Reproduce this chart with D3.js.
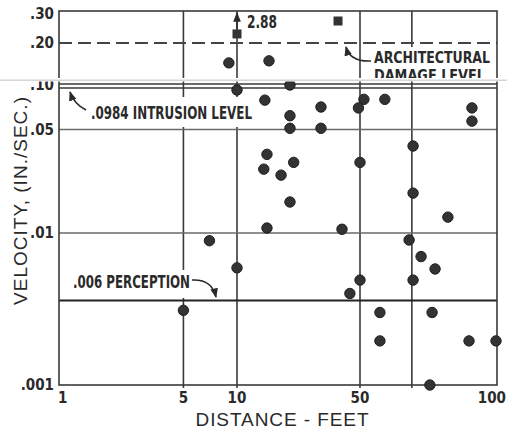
<!DOCTYPE html>
<html><head><meta charset="utf-8">
<script src="https://cdn.jsdelivr.net/npm/d3@7"></script>
<style>body{margin:0;background:#fff}svg{display:block}</style>
</head><body>
<script>
// ---- data ----
const distances  = [5, 7, 10, 10, 9, 15.2, 14.4, 20, 20, 20, 30, 30, 14.8, 14.2, 17.8, 21, 20, 14.8, 39.5,
                    50, 51, 49, 56.7, 65.4, 65.4, 78, 64.1, 68.1, 73.1, 50, 65.4, 43.8, 55.3, 72, 55.3, 86.8, 99.5, 71.2, 88.1, 88.1];
const velocities = [0.0031, 0.0089, 0.0059, 0.0925, 0.144, 0.149, 0.079, 0.1, 0.062, 0.051, 0.071, 0.051, 0.034, 0.027, 0.0246, 0.030, 0.0162, 0.0108, 0.0106,
                    0.030, 0.080, 0.070, 0.080, 0.0387, 0.0186, 0.0128, 0.0090, 0.0070, 0.0058, 0.0049, 0.0049, 0.0040, 0.0030, 0.0030, 0.00195, 0.00195, 0.00195, 0.001, 0.070, 0.057];
const offScaleDistances  = [10, 37.5];
const offScaleVelocities = [0.227, 0.272];
const offScaleLabel = "2.88";
const xTickValues = [1, 5, 10, 50, 100];
const xTickLabels = ["1", "5", "10", "50", "100"];
const xGridValues = [5, 10, 50, 65];
const yTickValues = [0.001, 0.01, 0.05, 0.1, 0.2, 0.3];
const yTickLabels = [".001", ".01", ".05", ".10", ".20", ".30"];
const yGridValues = [0.01, 0.05];
const architecturalLevel = 0.2;
const intrusionLevel = 0.0984;
const perceptionLevel = 0.0036;
const xTitle = "DISTANCE - FEET";
const yTitle = "VELOCITY, (IN./SEC.)";

// ---- layout ----
const W = 507, H = 431;
const pLeft = 59, pRight = 497, pTop = 11, pBottom = 385;
const narrow = "'Liberation Sans Narrow','DejaVu Sans Condensed',sans-serif";
const ink = "#2a2a2a";

const x = d3.scaleLog().domain([1, 10, 50, 100]).range([pLeft, 237, 360, pRight]);
const y = d3.scaleLog().domain([0.001, 0.01, 0.1, 0.2, 0.3]).range([pBottom, 233, 85, 43, 14]);

const svg = d3.select("body").append("svg").attr("width", W).attr("height", H);
svg.append("rect").attr("width", W).attr("height", H).attr("fill", "#fff");

const defs = svg.append("defs");
defs.append("marker").attr("id", "ah").attr("viewBox", "0 0 10 10").attr("refX", 9).attr("refY", 5)
  .attr("markerWidth", 6).attr("markerHeight", 6).attr("orient", "auto-start-reverse")
  .append("path").attr("d", "M0,1 L10,5 L0,9 Z").attr("fill", ink);

const g = svg.append("g");

// grid
g.selectAll(".vg").data(xGridValues).join("line")
  .attr("x1", d => x(d)).attr("x2", d => x(d)).attr("y1", pTop).attr("y2", pBottom + 3)
  .attr("stroke", "#3a3a3a").attr("stroke-width", 1.6);
g.selectAll(".hg").data(yGridValues).join("line")
  .attr("x1", pLeft).attr("x2", pRight).attr("y1", d => y(d)).attr("y2", d => y(d))
  .attr("stroke", "#6a6a6a").attr("stroke-width", 1.6);

// architectural dashed
g.append("line").attr("x1", pLeft).attr("x2", pRight).attr("y1", y(architecturalLevel)).attr("y2", y(architecturalLevel))
  .attr("stroke", "#444").attr("stroke-width", 2).attr("stroke-dasharray", "13,6");
// intrusion double line
[-2, 2].forEach(o => g.append("line").attr("x1", pLeft).attr("x2", pRight)
  .attr("y1", y(intrusionLevel) + o).attr("y2", y(intrusionLevel) + o)
  .attr("stroke", "#3a3a3a").attr("stroke-width", 1.4));
// perception line
g.append("line").attr("x1", pLeft).attr("x2", pRight).attr("y1", y(perceptionLevel)).attr("y2", y(perceptionLevel))
  .attr("stroke", "#222").attr("stroke-width", 2);

// label boxes
const boxes = [[88, 97, 168, 30], [68, 270, 128, 28], [365, 47, 129, 31]];
g.selectAll(".box").data(boxes).join("rect")
  .attr("x", d => d[0]).attr("y", d => d[1]).attr("width", d => d[2]).attr("height", d => d[3]).attr("fill", "#fff");

// frame
g.append("rect").attr("x", pLeft).attr("y", pTop).attr("width", pRight - pLeft).attr("height", pBottom - pTop)
  .attr("fill", "none").attr("stroke", "#3a3a3a").attr("stroke-width", 1.6);

// annotations text
function lab(t, tx, ty, len, fs) {
  svg.append("text").attr("x", tx).attr("y", ty).attr("font-family", narrow).attr("font-weight", "bold")
    .attr("font-size", fs).attr("fill", ink).attr("textLength", len).attr("lengthAdjust", "spacingAndGlyphs").text(t);
}
lab(".0984 INTRUSION LEVEL", 91, 119, 161, 17);
lab(".006 PERCEPTION", 73, 288, 117, 17);
lab("ARCHITECTURAL", 374, 63, 116, 16);
lab("DAMAGE LEVEL", 374, 81, 111, 16);

// curved arrows
const arrows = ["M86,110 Q74,104 70,92", "M192,280 Q212,279 216,297", "M371,61 Q350,62 346,47"];
svg.selectAll(".arr").data(arrows).join("path").attr("d", d => d)
  .attr("fill", "none").attr("stroke", ink).attr("stroke-width", 1.6).attr("marker-end", "url(#ah)");

// off-scale arrow + label
svg.append("line").attr("x1", x(offScaleDistances[0])).attr("x2", x(offScaleDistances[0]))
  .attr("y1", y(offScaleVelocities[0]) - 5).attr("y2", pTop + 2)
  .attr("stroke", ink).attr("stroke-width", 1.6).attr("marker-end", "url(#ah)");
lab(offScaleLabel, x(offScaleDistances[0]) + 10, 28, 30, 17);

// points
svg.selectAll(".pt").data(distances.map((d, i) => [d, velocities[i]])).join("circle")
  .attr("cx", d => x(d[0])).attr("cy", d => y(d[1])).attr("r", 5.2)
  .attr("fill", "#333").attr("stroke", "#1e1e1e").attr("stroke-width", 1);
svg.selectAll(".sq").data(offScaleDistances.map((d, i) => [d, offScaleVelocities[i]])).join("rect")
  .attr("x", d => x(d[0]) - 4.5).attr("y", d => y(d[1]) - 4.5).attr("width", 9).attr("height", 9)
  .attr("fill", "#333");

// axes tick labels
svg.selectAll(".yt").data(yTickValues).join("text")
  .attr("x", 54).attr("y", d => y(d)).attr("dy", "0.36em").attr("text-anchor", "end")
  .attr("font-family", narrow).attr("font-weight", "bold").attr("font-size", 15).attr("fill", ink)
  .text((d, i) => yTickLabels[i]);
const nX = xTickValues.length;
svg.selectAll(".xt").data(xTickValues).join("text")
  .attr("x", (d, i) => i === nX - 1 ? W - 1 : x(d)).attr("y", 403)
  .attr("text-anchor", (d, i) => i === 0 ? "start" : (i === nX - 1 ? "end" : "middle"))
  .attr("dx", (d, i) => i === 0 ? -1 : 0)
  .attr("font-family", narrow).attr("font-weight", "bold").attr("font-size", 15).attr("fill", ink)
  .text((d, i) => xTickLabels[i]);

// titles
svg.append("text").attr("x", 282).attr("y", 426).attr("text-anchor", "middle")
  .attr("font-family", "'Liberation Sans',Arial,sans-serif").attr("font-size", 19).attr("fill", ink)
  .attr("textLength", 173).attr("lengthAdjust", "spacing").text(xTitle);
svg.append("text").attr("transform", "translate(27,201) rotate(-90)").attr("text-anchor", "middle")
  .attr("font-family", "'Liberation Sans',Arial,sans-serif").attr("font-size", 19).attr("fill", ink)
  .attr("textLength", 208).attr("lengthAdjust", "spacing").text(yTitle);

// scan seam
svg.append("rect").attr("x", 0).attr("y", 78).attr("width", W).attr("height", 3.5).attr("fill", "#fff");
svg.append("rect").attr("x", 0).attr("y", 79.5).attr("width", W).attr("height", 1.5).attr("fill", "#d6d6d6");
</script>
</body></html>
